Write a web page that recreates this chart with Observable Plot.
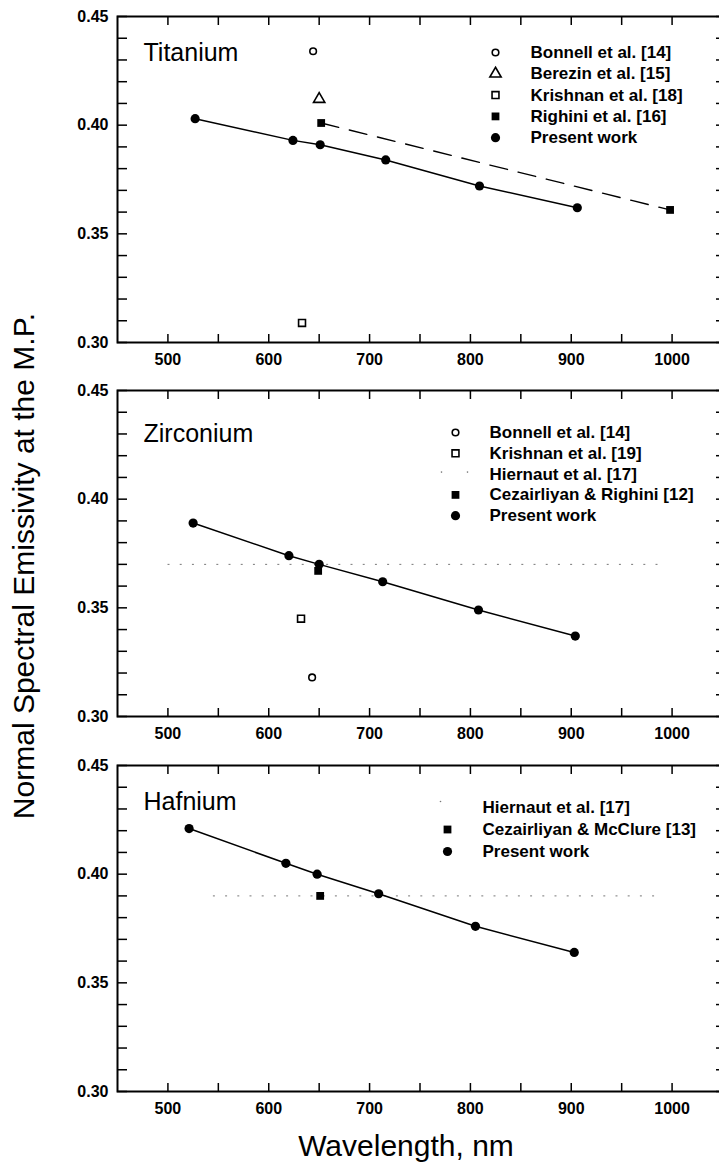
<!DOCTYPE html>
<html>
<head>
<meta charset="utf-8">
<script src="https://cdn.jsdelivr.net/npm/d3@7"></script>
<script src="https://cdn.jsdelivr.net/npm/@observablehq/plot@0.6"></script>
<style>
  html, body { margin: 0; padding: 0; background: white; }
  #wrap { position: relative; width: 719px; height: 1164px; overflow: hidden; background: white; font-family: "Liberation Sans", Arial, sans-serif; color: black; }
  .panel { position: absolute; left: 0; }
  #ylabel { position: absolute; left: 24px; top: 566px; transform: translate(-50%, -50%) rotate(-90deg); white-space: nowrap; font-size: 30px; }
  #xlabel { position: absolute; left: 406px; top: 1146px; transform: translate(-50%, -50%); white-space: nowrap; font-size: 30px; }
</style>
</head>
<body>
<div id="wrap">
  <div id="ylabel">Normal Spectral Emissivity at the M.P.</div>
  <div id="xlabel">Wavelength, nm</div>
</div>
<script>
// ---------- Data ----------
const panelTitles = ["Titanium", "Zirconium", "Hafnium"];

// Titanium
const tiPresentW = [527, 624, 651, 716, 809, 906];
const tiPresentE = [0.403, 0.393, 0.391, 0.384, 0.372, 0.362];
const tiRighiniW = [652, 998];
const tiRighiniE = [0.401, 0.361];
const tiBonnellW = [644];
const tiBonnellE = [0.434];
const tiBerezinW = [650];
const tiBerezinE = [0.412];
const tiKrishnanW = [633];
const tiKrishnanE = [0.309];
const tiLegend = ["Bonnell et al. [14]", "Berezin et al. [15]", "Krishnan et al. [18]", "Righini et al. [16]", "Present work"];

// Zirconium
const zrPresentW = [525, 620, 650, 713, 808, 904];
const zrPresentE = [0.389, 0.374, 0.370, 0.362, 0.349, 0.337];
const zrCezairliyanW = [649];
const zrCezairliyanE = [0.367];
const zrKrishnanW = [632];
const zrKrishnanE = [0.345];
const zrBonnellW = [643];
const zrBonnellE = [0.318];
const zrHiernautW = [500, 990];
const zrHiernautE = [0.370, 0.370];
const zrLegend = ["Bonnell et al. [14]", "Krishnan et al. [19]", "Hiernaut et al. [17]", "Cezairliyan & Righini [12]", "Present work"];

// Hafnium
const hfPresentW = [521, 617, 648, 709, 805, 903];
const hfPresentE = [0.421, 0.405, 0.400, 0.391, 0.376, 0.364];
const hfCezairliyanW = [651];
const hfCezairliyanE = [0.390];
const hfHiernautW = [545, 985];
const hfHiernautE = [0.390, 0.390];
const hfLegend = ["Hiernaut et al. [17]", "Cezairliyan & McClure [13]", "Present work"];

// Axis ticks
const xDomain = [450, 1050];
const yDomain = [0.30, 0.45];
const xTickLabels = [500, 600, 700, 800, 900, 1000];
const xMinorTicks = [500, 550, 600, 650, 700, 750, 800, 850, 900, 950, 1000];
const yTickLabels = [0.30, 0.35, 0.40, 0.45];
const yMinorTicks = [0.30, 0.31, 0.32, 0.33, 0.34, 0.35, 0.36, 0.37, 0.38, 0.39, 0.40, 0.41, 0.42, 0.43, 0.44, 0.45];

// ---------- Styles ----------
const sym = {
  filledCircle: {symbol: "circle", r: 4.6, fill: "black", stroke: "none"},
  filledSquare: {symbol: "square", r: 4.4, fill: "black", stroke: "none"},
  openCircle: {symbol: "circle", r: 3.3, fill: "none", stroke: "black", strokeWidth: 1.6},
  openTriangle: {symbol: "triangle", r: 4.2, fill: "none", stroke: "black", strokeWidth: 1.6},
  openSquare: {symbol: "square", r: 3.9, fill: "none", stroke: "black", strokeWidth: 1.6},
  tinyDot: {symbol: "circle", r: 0.8, fill: "#777", stroke: "none"}
};

function pts(W, E, style) {
  return Plot.dot(W, {x: d => d, y: (d, i) => E[i], ...style});
}
function line(W, E, opts) {
  return Plot.line(W, {x: d => d, y: (d, i) => E[i], stroke: "black", ...opts});
}

function legendMarks(labels, styles, {mx, tx, y0, step}) {
  return labels.flatMap((label, i) => {
    const dy = y0 + i * step;
    const out = [Plot.text([label], {frameAnchor: "top-left", dx: tx, dy, text: d => d, textAnchor: "start", lineAnchor: "middle", fontSize: 17, fontWeight: "bold", fill: "black"})];
    const st = styles[i];
    if (st === "dotted") {
      out.push(Plot.dot([0], {frameAnchor: "top-left", dx: mx - 14, dy: dy - 2, ...sym.tinyDot}));
      out.push(Plot.dot([0], {frameAnchor: "top-left", dx: mx + 12, dy: dy - 2, ...sym.tinyDot}));
    } else if (st === "dot") {
      out.push(Plot.dot([0], {frameAnchor: "top-left", dx: mx - 7, dy: dy - 6, ...sym.tinyDot}));
    } else {
      out.push(Plot.dot([0], {frameAnchor: "top-left", dx: mx, dy, ...st}));
    }
    return out;
  });
}

function titleMark(title, dy) {
  return Plot.text([title], {frameAnchor: "top-left", dx: 26, dy, text: d => d, textAnchor: "start", lineAnchor: "middle", fontSize: 25, fontWeight: "normal", fill: "black"});
}

function axes() {
  return [
    Plot.axisX(xMinorTicks, {anchor: "bottom", tickSize: -8, tickFormat: () => "", label: null, strokeWidth: 1.5}),
    Plot.axisX(xMinorTicks, {anchor: "top", tickSize: -8, tickFormat: () => "", label: null, strokeWidth: 1.5}),
    Plot.axisX(xTickLabels, {anchor: "bottom", tickSize: 0, tickPadding: 11, tickFormat: d => String(d), label: null, fontWeight: "bold", fontSize: 16}),
    Plot.axisY(yMinorTicks, {anchor: "left", tickSize: -10, tickFormat: () => "", label: null, strokeWidth: 1.5}),
    Plot.axisY(yMinorTicks, {anchor: "right", tickSize: -7, tickFormat: () => "", label: null, strokeWidth: 1.5}),
    Plot.axisY(yTickLabels, {anchor: "left", tickSize: 0, tickPadding: 9, tickFormat: d => d.toFixed(2), label: null, fontWeight: "bold", fontSize: 16}),
    Plot.frame({stroke: "black", strokeWidth: 2})
  ];
}

function makePanel(marks) {
  return Plot.plot({
    width: 719,
    height: 390,
    marginTop: 16,
    marginBottom: 48,
    marginLeft: 117,
    marginRight: -3,
    style: {background: "transparent", fontFamily: "'Liberation Sans', Arial, sans-serif", fontSize: "16px", color: "black", overflow: "visible"},
    x: {domain: xDomain},
    y: {domain: yDomain},
    marks: [...axes(), ...marks]
  });
}

const dashed = {strokeWidth: 1.4, strokeDasharray: "18,11"};
const solid = {strokeWidth: 1.5};
const dotted = {stroke: "#777", strokeWidth: 1, strokeDasharray: "1.2,11"};

const p1 = makePanel([
  line(tiRighiniW, tiRighiniE, dashed),
  line(tiPresentW, tiPresentE, solid),
  pts(tiPresentW, tiPresentE, sym.filledCircle),
  pts(tiRighiniW, tiRighiniE, sym.filledSquare),
  pts(tiBonnellW, tiBonnellE, sym.openCircle),
  pts(tiBerezinW, tiBerezinE, sym.openTriangle),
  pts(tiKrishnanW, tiKrishnanE, sym.openSquare),
  titleMark(panelTitles[0], 36),
  ...legendMarks(tiLegend, [sym.openCircle, sym.openTriangle, sym.openSquare, sym.filledSquare, sym.filledCircle], {mx: 378, tx: 413, y0: 36, step: 21.3})
]);

const p2 = makePanel([
  line(zrHiernautW, zrHiernautE, dotted),
  line(zrPresentW, zrPresentE, solid),
  pts(zrPresentW, zrPresentE, sym.filledCircle),
  pts(zrCezairliyanW, zrCezairliyanE, sym.filledSquare),
  pts(zrKrishnanW, zrKrishnanE, sym.openSquare),
  pts(zrBonnellW, zrBonnellE, sym.openCircle),
  titleMark(panelTitles[1], 43),
  ...legendMarks(zrLegend, [sym.openCircle, sym.openSquare, "dotted", sym.filledSquare, sym.filledCircle], {mx: 338, tx: 372, y0: 42, step: 20.8})
]);

const p3 = makePanel([
  line(hfHiernautW, hfHiernautE, dotted),
  line(hfPresentW, hfPresentE, solid),
  pts(hfPresentW, hfPresentE, sym.filledCircle),
  pts(hfCezairliyanW, hfCezairliyanE, sym.filledSquare),
  titleMark(panelTitles[2], 36),
  ...legendMarks(hfLegend, ["dot", sym.filledSquare, sym.filledCircle], {mx: 330, tx: 365, y0: 42, step: 22})
]);

const wrap = document.getElementById("wrap");
[p1, p2, p3].forEach((p, i) => {
  const div = document.createElement("div");
  div.className = "panel";
  div.style.top = [0, 374, 749][i] + "px";
  div.appendChild(p);
  wrap.appendChild(div);
});
</script>
</body>
</html>
